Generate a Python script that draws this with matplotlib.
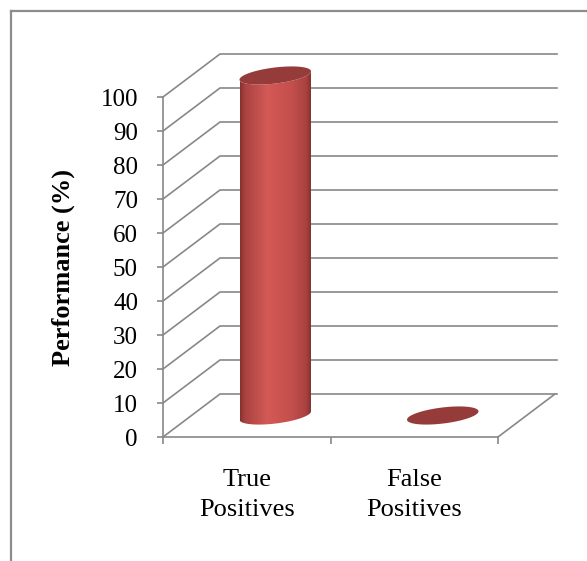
import numpy as np
import matplotlib.pyplot as plt
from matplotlib.patches import Polygon
from matplotlib.colors import LinearSegmentedColormap
from matplotlib.lines import Line2D

# ----------------------
# data
# ----------------------
categories = ["True\nPositives", "False\nPositives"]
values = [100, 0]
y_ticks = list(range(0, 101, 10))

# ----------------------
# figure / front plane of the 3d box (pixels)
# ----------------------
W, H = 587, 561
fig = plt.figure(figsize=(W / 100, H / 100), dpi=100)
plt.rcParams["font.family"] = ["Liberation Serif", "DejaVu Serif"]

x0, x1 = 163, 498
y0, y1 = 437, 97
ax = fig.add_axes([x0 / W, 1 - y0 / H, (x1 - x0) / W, (y0 - y1) / H])
ax.patch.set_visible(False)

n = len(categories)
ymax = 100

# pixel -> data scale
sx = n / (x1 - x0)
sy = ymax / (y0 - y1)
ddx = 57 * sx
ddy = 43 * sy

grid_c = "#888888"
lw = 1.2

# walls / gridlines
for v in y_ticks:
    ax.plot([0, ddx, n + ddx + 2 * sx], [v, v + ddy, v + ddy],
            color=grid_c, lw=lw, clip_on=False, zorder=1)
ax.plot([n, n + ddx], [0, ddy], color=grid_c, lw=lw, clip_on=False, zorder=1)

# ----------------------
# cylinders
# ----------------------
grad_cmap = LinearSegmentedColormap.from_list("cyl", [
    (0.0, "#86312f"),
    (0.07, "#a94341"),
    (0.38, "#d35956"),
    (0.72, "#c44f4c"),
    (0.92, "#a84240"),
    (1.0, "#7f2f2d"),
])
top_c = "#953b39"

a, b, phi = 36.0, 8.0, np.deg2rad(7)


def ellipse_pts(t):
    ex = a * np.cos(t) * np.cos(phi) - b * np.sin(t) * np.sin(phi)
    ey = a * np.cos(t) * np.sin(phi) + b * np.sin(t) * np.cos(phi)
    return ex * sx, ey * sy


t0 = np.arctan2(-b * np.sin(phi), a * np.cos(phi))
t_all = np.linspace(0, 2 * np.pi, 240)
t_front = np.linspace(t0 + np.pi, t0 + 2 * np.pi, 120)

for i, v in enumerate(values):
    cx = i + 0.5 + ddx / 2
    base = ddy / 2
    top = v + ddy / 2

    if v > 0:
        fx, fy = ellipse_pts(t_front)
        bx = np.concatenate([[cx + fx[0]], cx + fx, [cx + fx[-1]], cx + fx[::-1]])
        by = np.concatenate([[top + fy[0]], base + fy, [top + fy[-1]], top + fy[::-1]])
        body = Polygon(np.column_stack([bx, by]), closed=True,
                       facecolor="none", edgecolor="none",
                       transform=ax.transData, clip_on=False)
        ax.add_patch(body)
        grad = grad_cmap(np.linspace(0, 1, 256))[None, :, :]
        im = ax.imshow(grad, extent=[bx.min(), bx.max(), by.min(), by.max()],
                       aspect="auto", zorder=3, interpolation="bilinear")
        im.set_clip_box(fig.bbox)
        im.set_clip_path(body)

    ex, ey = ellipse_pts(t_all)
    ax.add_patch(Polygon(np.column_stack([cx + ex, top + ey]), closed=True,
                         facecolor=top_c, edgecolor="none",
                         zorder=4, clip_on=False))

ax.set_xlim(0, n)
ax.set_ylim(0, ymax)

# ----------------------
# axes styling
# ----------------------
for s in ["top", "right"]:
    ax.spines[s].set_visible(False)
for s in ["left", "bottom"]:
    ax.spines[s].set_color(grid_c)
    ax.spines[s].set_linewidth(lw)
    ax.spines[s].set_zorder(2)

ax.set_yticks(y_ticks)
ax.set_xticks(range(n + 1))
ax.set_xticklabels([])
ax.tick_params(axis="y", direction="out", length=4.5, width=lw,
               color=grid_c, pad=13.5, labelsize=18)
ax.tick_params(axis="x", direction="out", length=5, width=lw, color=grid_c)

for i, lab in enumerate(categories):
    ax.annotate(lab, xy=(i + 0.5, 0), xytext=(0, -32),
                textcoords="offset pixels", ha="center", va="top",
                fontsize=19, linespacing=1.5, annotation_clip=False)

fig.text(63 / W, 1 - 267 / H, "Performance (%)", rotation=90,
         ha="center", va="center", fontsize=19, fontweight="bold")

# chart border (left and top edges visible)
fig.add_artist(Line2D([10.5 / W, 10.5 / W], [0, 1 - 10.5 / H],
                      color="#8c8c8c", lw=1.6, transform=fig.transFigure))
fig.add_artist(Line2D([10.5 / W, 1], [1 - 10.5 / H, 1 - 10.5 / H],
                      color="#8c8c8c", lw=1.6, transform=fig.transFigure))

plt.savefig("out.png", dpi=100)
